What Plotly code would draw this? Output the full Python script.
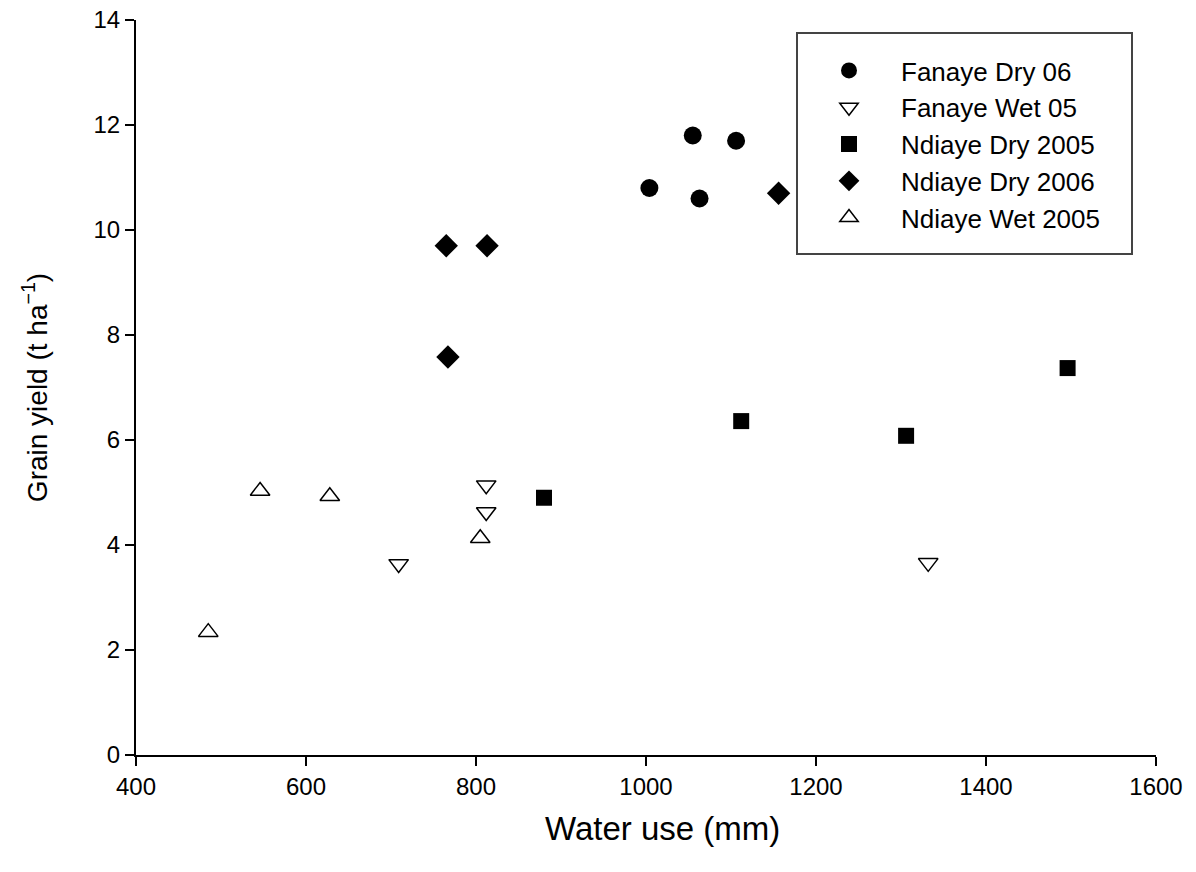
import plotly.graph_objects as go

# Data
fanaye_dry06_x = [1004, 1055, 1106, 1063]
fanaye_dry06_y = [10.8, 11.8, 11.7, 10.6]

fanaye_wet05_x = [709, 812, 812, 1332]
fanaye_wet05_y = [3.64, 5.14, 4.63, 3.66]

ndiaye_dry2005_x = [880, 1112, 1306, 1496]
ndiaye_dry2005_y = [4.90, 6.36, 6.08, 7.37]

ndiaye_dry2006_x = [765, 813, 767, 1156]
ndiaye_dry2006_y = [9.70, 9.70, 7.58, 10.70]

ndiaye_wet2005_x = [485, 546, 628, 805]
ndiaye_wet2005_y = [2.34, 5.03, 4.93, 4.13]

x_ticks = [400, 600, 800, 1000, 1200, 1400, 1600]
y_ticks = [0, 2, 4, 6, 8, 10, 12, 14]

FONT = "Liberation Sans, Arial, sans-serif"

series = [
    ("Fanaye Dry 06", fanaye_dry06_x, fanaye_dry06_y,
     dict(symbol="circle", size=18, color="black", line=dict(width=0))),
    ("Fanaye Wet 05", fanaye_wet05_x, fanaye_wet05_y,
     dict(symbol="triangle-down-open", size=17, color="black", line=dict(width=1.5))),
    ("Ndiaye Dry 2005", ndiaye_dry2005_x, ndiaye_dry2005_y,
     dict(symbol="square", size=16, color="black", line=dict(width=0))),
    ("Ndiaye Dry 2006", ndiaye_dry2006_x, ndiaye_dry2006_y,
     dict(symbol="diamond", size=18, color="black", line=dict(width=0))),
    ("Ndiaye Wet 2005", ndiaye_wet2005_x, ndiaye_wet2005_y,
     dict(symbol="triangle-up-open", size=17, color="black", line=dict(width=1.5))),
]

fig = go.Figure()
for name, xs, ys, mk in series:
    fig.add_trace(go.Scatter(x=xs, y=ys, mode="markers", name=name,
                             marker=mk, legendgroup=name, cliponaxis=False))

W, H = 1196, 872
L, R, T, B = 136, 40, 20, 117
pw = W - L - R
ph = H - T - B

def px_to_paper_x(px):
    return (px - L) / pw

def px_to_paper_y(py):
    return (H - B - py) / ph

fig.add_shape(type="rect", xref="paper", yref="paper",
              x0=px_to_paper_x(797), x1=px_to_paper_x(1132),
              y0=px_to_paper_y(254), y1=px_to_paper_y(33),
              line=dict(color="#444444", width=2), fillcolor="rgba(0,0,0,0)",
              layer="above")

fig.add_annotation(text="Water use (mm)", xref="paper", yref="paper",
                   x=px_to_paper_x(662), y=px_to_paper_y(828),
                   xanchor="center", yanchor="middle", showarrow=False,
                   font=dict(family=FONT, size=33, color="black"))

fig.update_layout(
    width=W, height=H,
    margin=dict(l=L, r=R, t=T, b=B),
    paper_bgcolor="white", plot_bgcolor="white",
    font=dict(family=FONT, color="black", size=20),
    showlegend=True,
    legend=dict(
        x=px_to_paper_x(797), y=px_to_paper_y(47),
        xanchor="left", yanchor="top",
        bgcolor="rgba(0,0,0,0)", borderwidth=0,
        font=dict(family=FONT, size=26, color="black"),
        itemwidth=94, tracegroupgap=0,
    ),
    xaxis=dict(
        range=[400, 1600], tickvals=x_ticks, ticktext=[str(v) for v in x_ticks],
        showgrid=False, zeroline=False, showline=True, linecolor="black", linewidth=2,
        ticks="outside", ticklen=9, tickwidth=2, tickcolor="black",
        tickfont=dict(family=FONT, size=24), automargin=False,
    ),
    yaxis=dict(
        range=[0, 14], tickvals=y_ticks, ticktext=[str(v) for v in y_ticks],
        showgrid=False, zeroline=False, showline=True, linecolor="black", linewidth=2,
        ticks="outside", ticklen=9, tickwidth=2, tickcolor="black",
        tickfont=dict(family=FONT, size=24), automargin=False,
        title=dict(text="Grain yield (t ha<sup>−1</sup>)", font=dict(family=FONT, size=28), standoff=38),
    ),
)

fig.write_html("out.html")
